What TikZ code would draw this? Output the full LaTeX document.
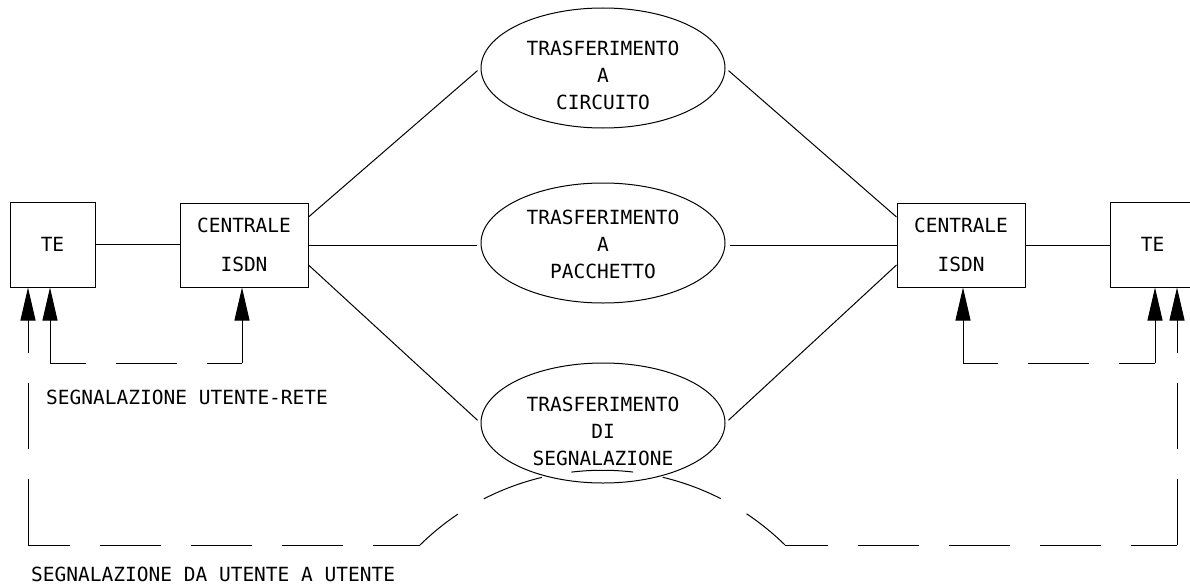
\documentclass[tikz,border=0pt]{standalone}
\usepackage{fontspec}
\newfontfamily\cadfont{DejaVu Sans Mono}
\usetikzlibrary{shapes.geometric,arrows.meta,calc}
\begin{document}
\begin{tikzpicture}[x=1pt,y=1pt,
  every node/.style={font=\cadfont\fontsize{19.5}{27}\selectfont},
  box/.style={draw,line width=1pt,inner sep=0pt,align=center},
  oval/.style={draw,ellipse,line width=1pt,minimum width=244pt,minimum height=120pt,inner sep=0pt},
  ln/.style={line width=1pt},
  arr/.style={line width=1pt,-{Triangle[length=33pt,width=15pt]}},
  dsh/.style={line width=1pt,dash pattern=on 61pt off 30pt},
  lbl/.style={align=center,inner sep=0pt}]
\useasboundingbox (0,0) rectangle (1190,-586);
% boxes
\node[box,minimum width=85pt,minimum height=85pt] (TEL) at (52.5,-244.5) {TE};
\node[box,minimum width=128pt,minimum height=84pt,font=\cadfont\fontsize{19.5}{39}\selectfont] (CL) at (244,-245) {CENTRALE\\ISDN};
\node[box,minimum width=128pt,minimum height=84pt,font=\cadfont\fontsize{19.5}{39}\selectfont] (CR) at (961,-245) {CENTRALE\\ISDN};
\node[box,minimum width=85pt,minimum height=85pt] (TER) at (1152.5,-244.5) {TE};
% ellipses
\node[oval] (E1) at (603,-68) {};
\node[oval] (E2) at (603,-243) {};
\node[oval] (E3) at (603,-423) {};
\node[lbl] (T1) at ([yshift=-7pt]E1.center) {TRASFERIMENTO\\A\\CIRCUITO};
\node[lbl] (T2) at ([yshift=-1pt]E2.center) {TRASFERIMENTO\\A\\PACCHETTO};
\node[lbl] (T3) at ([yshift=-8pt]E3.center) {TRASFERIMENTO\\DI\\SEGNALAZIONE};
% solid connectors
\draw[ln] (TEL.east) -- (TEL.east -| CL.west);
\draw[ln] (CR.east) -- (CR.east -| TER.west);
\draw[ln,shorten >=4pt] ([yshift=28pt]CL.east) -- (E1.west);
\draw[ln,shorten >=4pt] (CL.east) -- (CL.east -| E2.west);
\draw[ln,shorten >=4pt] ([yshift=-20pt]CL.east) -- (E3.west);
\draw[ln,shorten >=4pt] ([yshift=28pt]CR.west) -- (E1.east);
\draw[ln,shorten >=4pt] (CR.west) -- (CR.west -| E2.east);
\draw[ln,shorten >=4pt] ([yshift=-20pt]CR.west) -- (E3.east);
% user-network signalling (left)
\coordinate (a) at (50,-363);
\coordinate (b) at (242,-363);
\draw[arr] (a) -- (a |- TEL.south);
\draw[dsh,dash phase=25pt] (a) -- (b);
\draw[arr] (b) -- (b |- CL.south);
% user-network signalling (right)
\coordinate (c) at (963,-363);
\coordinate (d) at (1155,-363);
\draw[arr] (c) -- (c |- CR.south);
\draw[dsh,dash phase=26pt] (c) -- (d);
\draw[arr] (d) -- (d |- TER.south);
% user-to-user signalling
\coordinate (p) at (28,-545);
\coordinate (q) at (420,-545);
\coordinate (r) at (785,-545);
\coordinate (s) at (1177,-545);
\draw[arr,dash pattern=on 66pt off 30pt] (p) -- (p |- TEL.south);
\draw[dsh,dash phase=19pt] (p) -- (q);
\draw[ln,dash pattern=on 62pt off 30pt,dash phase=13pt] (q) to[bend left=44.45] (r);
\draw[dsh,dash phase=18pt] (r) -- (s);
\draw[arr,dash pattern=on 66pt off 30pt] (s) -- (s |- TER.south);
% labels
\node[anchor=west,inner sep=0pt] (L1) at (46,-397) {SEGNALAZIONE UTENTE-RETE};
\node[anchor=west,inner sep=0pt] (L2) at (31,-574) {SEGNALAZIONE DA UTENTE A UTENTE};
\end{tikzpicture}
\end{document}
